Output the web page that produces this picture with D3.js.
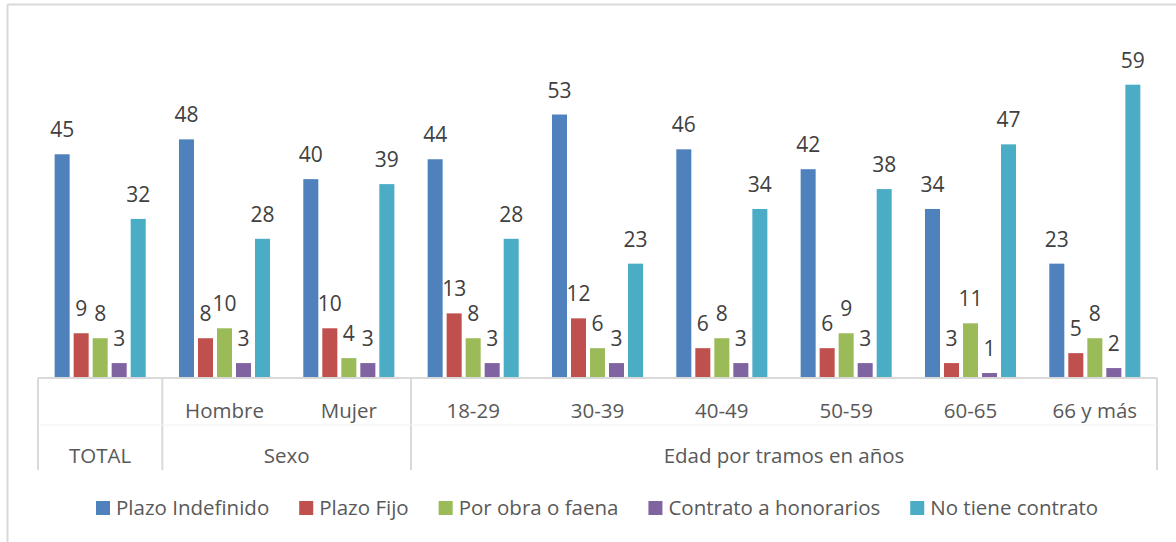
<!DOCTYPE html>
<html>
<head>
<meta charset="utf-8">
<script src="https://cdn.jsdelivr.net/npm/d3@7"></script>
<style>
  body { margin: 0; background: #fff; }
  text { font-family: "Open Sans", "Noto Sans", sans-serif; }
</style>
</head>
<body>
<div id="chart"></div>
<script>
// categories (inner level) and their parent group
const categories = ["TOTAL", "Hombre", "Mujer", "18-29", "30-39", "40-49", "50-59", "60-65", "66 y más"];
const groups = [
  { name: "TOTAL", from: 0, to: 1 },
  { name: "Sexo", from: 1, to: 3 },
  { name: "Edad por tramos en años", from: 3, to: 9 }
];
const seriesNames = ["Plazo Indefinido", "Plazo Fijo", "Por obra o faena", "Contrato a honorarios", "No tiene contrato"];
const colors = ["#4f81bd", "#c0504d", "#9bbb59", "#8064a2", "#4bacc6"];

const plazoIndefinido = [45, 48, 40, 44, 53, 46, 42, 34, 23];
const plazoFijo       = [9, 8, 10, 13, 12, 6, 6, 3, 5];
const porObra         = [8, 10, 4, 8, 6, 8, 9, 11, 8];
const honorarios      = [3, 3, 3, 3, 3, 3, 3, 1, 2];
const sinContrato     = [32, 28, 39, 28, 23, 34, 38, 47, 59];
const series = [plazoIndefinido, plazoFijo, porObra, honorarios, sinContrato];

const width = 1176, height = 542;
const x0 = 38, x1 = 1157, baseY = 378;

const svg = d3.select("#chart").append("svg")
  .attr("width", width)
  .attr("height", height);

// frame (top + left visible)
svg.append("line").attr("x1", 7.5).attr("x2", width).attr("y1", 4.5).attr("y2", 4.5)
  .attr("stroke", "#d9d9d9").attr("stroke-width", 2);
svg.append("line").attr("x1", 7.5).attr("x2", 7.5).attr("y1", 4.5).attr("y2", height)
  .attr("stroke", "#d9d9d9").attr("stroke-width", 2);

const x = d3.scaleBand().domain(d3.range(categories.length)).range([x0, x1]).padding(0);
const xs = d3.scaleBand().domain(d3.range(series.length))
  .range([0, x.bandwidth()]).paddingInner(0.21).paddingOuter(0.875);
const y = d3.scaleLinear().domain([0, 70]).range([baseY, 30]);

// bars
const rows = [];
categories.forEach((c, i) => series.forEach((s, j) => rows.push({ i, j, v: s[i] })));

svg.append("g").selectAll("rect")
  .data(rows)
  .join("rect")
  .attr("x", d => x(d.i) + xs(d.j))
  .attr("width", xs.bandwidth())
  .attr("y", d => y(d.v))
  .attr("height", d => y(0) - y(d.v))
  .attr("fill", d => colors[d.j]);

svg.append("g")
  .attr("font-size", 21)
  .attr("fill", "#404040")
  .attr("text-anchor", "middle")
  .selectAll("text")
  .data(rows)
  .join("text")
  .attr("x", d => x(d.i) + xs(d.j) + xs.bandwidth() / 2)
  .attr("y", d => y(d.v) - 17)
  .text(d => d.v);

// multi-level axis
const axis = svg.append("g").attr("stroke", "#d9d9d9").attr("stroke-width", 2);
axis.append("line").attr("x1", x0).attr("x2", x1).attr("y1", baseY).attr("y2", baseY);
const seps = [0].concat(groups.map(g => g.to));
axis.selectAll(".sep")
  .data(seps)
  .join("line")
  .attr("class", "sep")
  .attr("x1", d => d === categories.length ? x1 : x(d))
  .attr("x2", d => d === categories.length ? x1 : x(d))
  .attr("y1", baseY)
  .attr("y2", 470);
axis.append("line").attr("x1", x0).attr("x2", x1).attr("y1", 425).attr("y2", 425)
  .attr("stroke", "#f2f2f2").attr("stroke-width", 1);

svg.append("g")
  .attr("font-size", 20.5)
  .attr("fill", "#595959")
  .attr("text-anchor", "middle")
  .selectAll("text")
  .data(categories.slice(1).map((c, k) => ({ c, i: k + 1 })))
  .join("text")
  .attr("x", d => x(d.i) + x.bandwidth() / 2)
  .attr("y", 418)
  .text(d => d.c);

svg.append("g")
  .attr("font-size", 20.5)
  .attr("fill", "#595959")
  .attr("text-anchor", "middle")
  .selectAll("text")
  .data(groups)
  .join("text")
  .attr("x", d => (x(d.from) + (d.to === categories.length ? x1 : x(d.to))) / 2)
  .attr("y", 463)
  .text(d => d.name);

// legend
const legend = svg.append("g").attr("transform", "translate(96,501)");
let lx = 0;
seriesNames.forEach((name, j) => {
  const item = legend.append("g").attr("transform", `translate(${lx},0)`);
  item.append("rect").attr("width", 14).attr("height", 14).attr("fill", colors[j]);
  const t = item.append("text")
    .attr("x", 20).attr("y", 14)
    .attr("font-size", 20.5)
    .attr("fill", "#595959")
    .text(name);
  lx += 20 + t.node().getComputedTextLength() + 30;
});
</script>
</body>
</html>
